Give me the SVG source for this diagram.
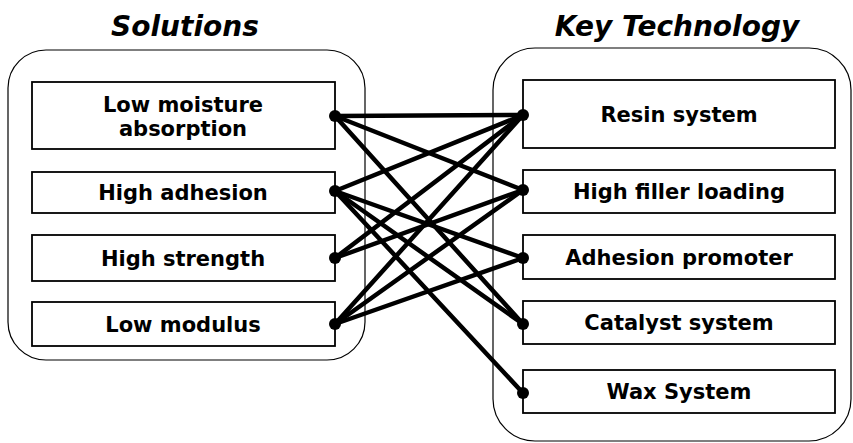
<svg xmlns="http://www.w3.org/2000/svg" width="853" height="443" viewBox="0 0 853 443">
<style>
.title{font-family:"DejaVu Sans",Verdana,sans-serif;font-weight:bold;font-style:italic;font-size:28px;text-anchor:middle;fill:#000}
.lbl{font-family:"DejaVu Sans",Verdana,sans-serif;font-weight:bold;font-size:21px;text-anchor:middle;fill:#000}
.cont{fill:none;stroke:#000;stroke-width:1.2}
.box{fill:#fff;stroke:#000;stroke-width:1.8}
.conn line{stroke:#000;stroke-width:4.5;stroke-linecap:round}
.dot{fill:#000}
</style>
<rect width="853" height="443" fill="#fff"/>
<text class="title" x="185" y="36">Solutions</text>
<text class="title" x="677" y="36">Key Technology</text>
<rect class="cont" x="8" y="50" width="357" height="310" rx="38" ry="38"/>
<rect class="cont" x="493" y="48" width="358" height="393" rx="42" ry="42"/>
<g id="s1"><rect class="box" x="32" y="82" width="303" height="67"/><text class="lbl" x="183" y="112">Low moisture</text><text class="lbl" x="183" y="136">absorption</text></g>
<g id="s2"><rect class="box" x="32" y="172" width="303" height="41"/><text class="lbl" x="183" y="200">High adhesion</text></g>
<g id="s3"><rect class="box" x="32" y="235" width="303" height="46"/><text class="lbl" x="183" y="265.5">High strength</text></g>
<g id="s4"><rect class="box" x="32" y="302" width="303" height="44"/><text class="lbl" x="183" y="331.5">Low modulus</text></g>
<g id="k1"><rect class="box" x="523" y="80" width="312" height="68"/><text class="lbl" x="679" y="121.5">Resin system</text></g>
<g id="k2"><rect class="box" x="523" y="170" width="312" height="43"/><text class="lbl" x="679" y="199">High filler loading</text></g>
<g id="k3"><rect class="box" x="523" y="235" width="312" height="44"/><text class="lbl" x="679" y="264.5">Adhesion promoter</text></g>
<g id="k4"><rect class="box" x="523" y="301" width="312" height="43"/><text class="lbl" x="679" y="330">Catalyst system</text></g>
<g id="k5"><rect class="box" x="523" y="370" width="312" height="43"/><text class="lbl" x="679" y="399">Wax System</text></g>
<g id="connectors" class="conn">
<line x1="335" y1="116" x2="523" y2="115"/>
<line x1="335" y1="116" x2="523" y2="190"/>
<line x1="335" y1="116" x2="523" y2="324"/>
<line x1="335" y1="191" x2="523" y2="115"/>
<line x1="335" y1="191" x2="523" y2="258"/>
<line x1="335" y1="191" x2="523" y2="324"/>
<line x1="335" y1="191" x2="523" y2="393"/>
<line x1="335" y1="258" x2="523" y2="115"/>
<line x1="335" y1="258" x2="523" y2="190"/>
<line x1="335" y1="324" x2="523" y2="115"/>
<line x1="335" y1="324" x2="523" y2="190"/>
<line x1="335" y1="324" x2="523" y2="258"/>
<circle class="dot" cx="335" cy="116" r="6"/>
<circle class="dot" cx="335" cy="191" r="6"/>
<circle class="dot" cx="335" cy="258" r="6"/>
<circle class="dot" cx="335" cy="324" r="6"/>
<circle class="dot" cx="523" cy="115" r="6"/>
<circle class="dot" cx="523" cy="190" r="6"/>
<circle class="dot" cx="523" cy="258" r="6"/>
<circle class="dot" cx="523" cy="324" r="6"/>
<circle class="dot" cx="523" cy="393" r="6"/>
</g>
</svg>
